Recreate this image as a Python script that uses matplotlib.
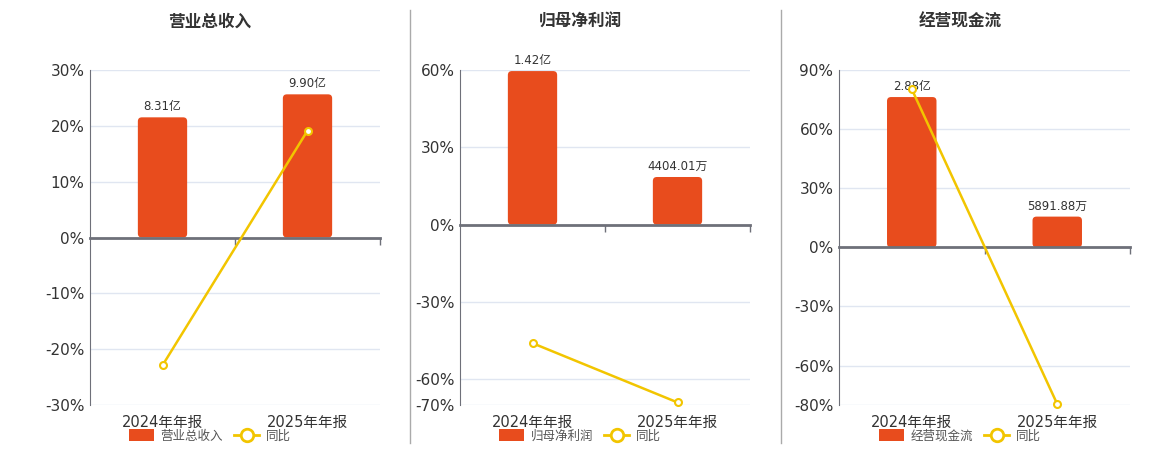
import matplotlib
matplotlib.use("Agg")
import matplotlib.pyplot as plt
from matplotlib.patches import FancyBboxPatch, Patch
from matplotlib.lines import Line2D

plt.rcParams['font.family'] = ['DejaVu Sans', 'Noto Sans CJK SC']

# data
periods = ['2024年年报', '2025年年报']
titles = ['营业总收入', '归母净利润', '经营现金流']

revenue = [8.31, 9.90]            # 亿
revenue_labels = ['8.31亿', '9.90亿']
revenue_yoy = [-22.9, 19.13]
revenue_ticks = [-30, -20, -10, 0, 10, 20, 30]

profit = [14200, 4404.01]         # 万
profit_labels = ['1.42亿', '4404.01万']
profit_yoy = [-46.0, -69.0]
profit_ticks = [-70, -60, -30, 0, 30, 60]

cashflow = [28800, 5891.88]       # 万
cashflow_labels = ['2.88亿', '5891.88万']
cashflow_yoy = [80.3, -79.54]
cashflow_ticks = [-80, -60, -30, 0, 30, 60, 90]

BAR = '#e84c1d'
LINE = '#f2c500'
AXIS = '#6e7079'
GRID = '#e0e6f1'
W, H = 1160, 450


def px_rect(l, r, t, b):
    return [l / W, 1 - b / H, (r - l) / W, (b - t) / H]


panels = [
    (titles[0], revenue, revenue_labels, revenue_yoy, revenue_ticks, 1.17, (90, 380), 210),
    (titles[1], profit, profit_labels, profit_yoy, profit_ticks, 1.007, (460, 750), 580),
    (titles[2], cashflow, cashflow_labels, cashflow_yoy, cashflow_ticks, 1.18, (839, 1130), 960),
]

fig = plt.figure(figsize=(W / 100, H / 100), dpi=100)

for title, vals, labels, yoy, ticks, head, (left, right), cx in panels:
    rect = px_rect(left, right, 70, 405)
    ymin, ymax = ticks[0], ticks[-1]
    x = list(range(len(periods)))

    # base axes: grid, y ticks, category labels
    ax = fig.add_axes(rect)
    ax.set_xlim(-0.5, 1.5)
    ax.set_ylim(ymin, ymax)
    ax.set_yticks(ticks)
    ax.set_yticklabels([f'{t}%' for t in ticks])
    ax.grid(axis='y', color=GRID, lw=1)
    ax.set_axisbelow(True)
    for s in ['top', 'right', 'bottom']:
        ax.spines[s].set_visible(False)
    ax.spines['left'].set_color(AXIS)
    ax.tick_params(axis='y', length=0, labelsize=11, colors='#333333', pad=4)
    ax.set_xticks(x)
    ax.set_xticklabels(periods)
    ax.tick_params(axis='x', length=0, labelsize=10.5, colors='#333333', pad=7)

    # bar axes (hidden scale)
    axb = fig.add_axes(rect)
    top = max(vals) * head
    axb.set_xlim(-0.5, 1.5)
    axb.set_ylim(top * ymin / ymax, top)
    axb.axis('off')
    bars = axb.bar(x, vals, width=0.34, color=BAR)
    # rounded top corners
    xpp = 2.0 / (right - left)
    ypp = (top - top * ymin / ymax) / 335
    for b in bars:
        bx, by, bw, bh = b.get_x(), b.get_y(), b.get_width(), b.get_height()
        b.set_visible(False)
        fb = FancyBboxPatch((bx, by), bw, bh,
                            boxstyle=f'round,pad=0,rounding_size={4 * xpp}',
                            mutation_aspect=ypp / xpp, fc=BAR, ec='none')
        axb.add_patch(fb)
    for xi, v, lab in zip(x, vals, labels):
        axb.annotate(lab, (xi, v), xytext=(0, 3), textcoords='offset points',
                     ha='center', va='bottom', fontsize=8.5, color='#333333')

    # line axes on top
    axl = fig.add_axes(rect)
    axl.set_xlim(-0.5, 1.5)
    axl.set_ylim(ymin, ymax)
    axl.patch.set_visible(False)
    for s in ['top', 'right', 'left']:
        axl.spines[s].set_visible(False)
    axl.spines['bottom'].set_position(('data', 0))
    axl.spines['bottom'].set_color(AXIS)
    axl.spines['bottom'].set_linewidth(2)
    axl.set_yticks([])
    axl.set_xticks([0.5, 1.5])
    axl.tick_params(axis='x', length=5, width=1, colors=AXIS, labelbottom=False)
    axl.plot(x, yoy, color=LINE, lw=1.8, marker='o', ms=5, mfc='white',
             mec=LINE, mew=1.5, clip_on=False, zorder=5)

    fig.text(cx / W, 1 - 22 / H, title, ha='center', va='center',
             fontsize=12, fontweight='bold', color='#333333')

    handles = [Patch(facecolor=BAR, label=title),
               Line2D([], [], color=LINE, lw=2, marker='o', ms=9, mfc='white',
                      mec=LINE, mew=2, label='同比')]
    fig.legend(handles=handles, loc='center', bbox_to_anchor=(cx / W, 1 - 436 / H),
               ncol=2, frameon=False, fontsize=9, handlelength=2.0,
               handleheight=1.1, handletextpad=0.5, columnspacing=0.9,
               labelcolor='#555555')

for sx in [410, 781]:
    fig.add_artist(Line2D([sx / W, sx / W], [1 - 10 / H, 1 - 443 / H],
                          color='#aaaaaa', lw=1))

fig.savefig('out.png', dpi=100)
